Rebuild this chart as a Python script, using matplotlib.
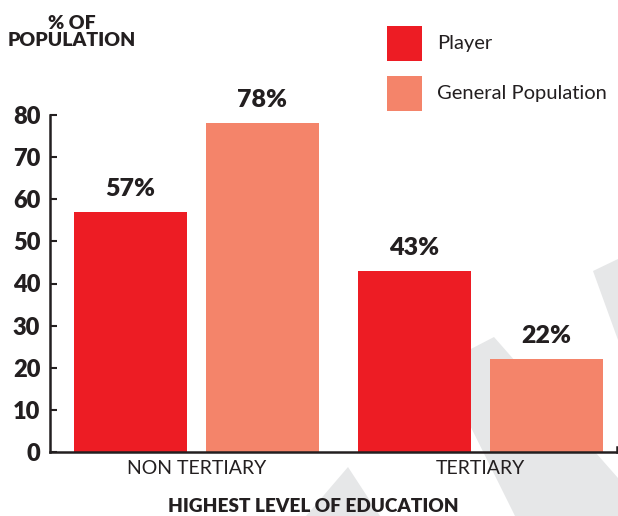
import matplotlib
matplotlib.use("Agg")
import matplotlib.pyplot as plt
from matplotlib.patches import Polygon, Rectangle
import numpy as np

categories = ["NON TERTIARY", "TERTIARY"]
series_names = ["Player", "General Population"]
player = [57, 43]
general = [78, 22]
yticks = [0, 10, 20, 30, 40, 50, 60, 70, 80]

RED = "#ED1C24"
SALMON = "#F4846A"
DARK = "#231F20"
GRAY = "#E6E7E8"
FONT = "Lato"
BOLD = 'heavy'

W, H = 618, 516
fig = plt.figure(figsize=(W / 100, H / 100), dpi=100)
plt.rcParams['font.family'] = [FONT, 'DejaVu Sans']

def px(x, y):
    return (x / W, 1 - y / H)

# light background watermark shapes
shapes = [
    [(494, 337), (618, 478), (618, 516), (515, 516), (440, 365)],
    [(593, 271), (618, 259), (618, 340)],
    [(348, 467), (380, 516), (306, 516)],
]
for s in shapes:
    fig.add_artist(Polygon([px(*p) for p in s], closed=True, transform=fig.transFigure,
                           facecolor=GRAY, edgecolor='none', zorder=-5))

left, right, top, bottom = 50, 617, 115, 452
ax = fig.add_axes([left / W, 1 - bottom / H, (right - left) / W, (bottom - top) / H])
ax.patch.set_alpha(0)

x = np.arange(len(categories))
width = 0.4
off = 0.232
colors = [RED, SALMON]
b1 = ax.bar(x - off, player, width, color=RED, label=series_names[0], zorder=2)
b2 = ax.bar(x + off, general, width, color=SALMON, label=series_names[1], zorder=2)

for bars, vals in ((b1, player), (b2, general)):
    for rect, v in zip(bars, vals):
        ax.annotate(f"{v}%", (rect.get_x() + rect.get_width() / 2, v),
                    xytext=(0, 11.5), textcoords='offset points',
                    ha='center', va='baseline', fontsize=18, fontweight=BOLD, color=DARK)

ax.set_xlim(-0.516, 1.481)
ax.set_ylim(0, 80)
ax.set_yticks(yticks)
ax.set_yticklabels([str(t) for t in yticks], fontsize=17, fontweight=BOLD, color=DARK)
ax.set_xticks(x)
ax.set_xticklabels(categories, fontsize=14, color=DARK)

ax.spines['top'].set_visible(False)
ax.spines['right'].set_bounds(0, 1.3)
for sp in ['left', 'bottom', 'right']:
    ax.spines[sp].set_linewidth(1.8)
    ax.spines[sp].set_color(DARK)

ax.tick_params(axis='y', direction='in', length=5, width=1.5, color=DARK, pad=7)
ax.tick_params(axis='x', length=0, pad=6)

# legend: large squares with labels
for i, (name, c) in enumerate(zip(series_names, colors)):
    y0 = 26 + i * 50
    x0, y1 = px(387, y0 + 35)
    fig.add_artist(Rectangle((x0, y1), 35 / W, 35 / H, transform=fig.transFigure,
                             facecolor=c, edgecolor='none'))
    fig.text(*px(437, y0 + 17.5), name, ha='left', va='center', fontsize=14.5, color=DARK)

fig.text(*px(72, 32), "% OF\nPOPULATION", ha='center', va='center', fontsize=14,
         fontweight=BOLD, color=DARK, linespacing=0.95)
fig.text(*px(313, 506), "HIGHEST LEVEL OF EDUCATION", ha='center', va='center',
         fontsize=13.7, fontweight=BOLD, color=DARK)

fig.savefig("out.png", dpi=100)
